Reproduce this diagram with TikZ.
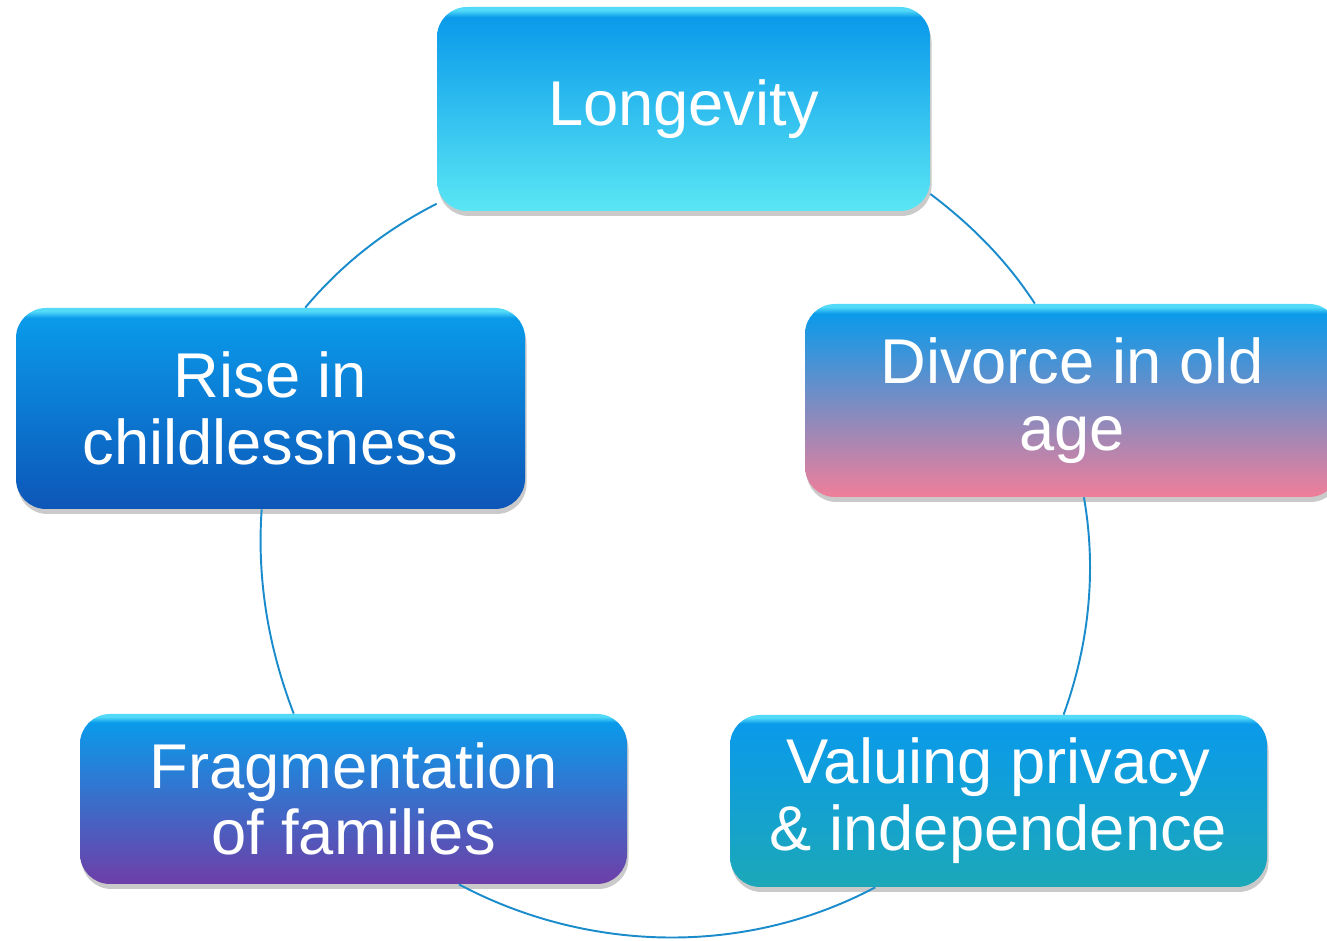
\documentclass[tikz,border=0pt]{standalone}
\usepackage{fontspec}
\setmainfont{Liberation Sans}
\usetikzlibrary{shadows}

\definecolor{topblue}{RGB}{10,154,234}
\definecolor{hilite}{RGB}{82,218,248}
\definecolor{ringblue}{RGB}{26,140,204}
\definecolor{longbot}{RGB}{90,230,244}
\definecolor{divbot}{RGB}{240,126,154}
\definecolor{risebot}{RGB}{13,86,184}
\definecolor{fragbot}{RGB}{110,62,168}
\definecolor{privbot}{RGB}{28,168,184}

% vertical shading: bottom colour -> blue, light rim on top
\newcommand{\boxshading}[2]{%
  \pgfdeclareverticalshading{#1}{100bp}{color(0bp)=(#2); color(25bp)=(#2);
    color(72.5bp)=(topblue); color(74.2bp)=(hilite); color(75bp)=(hilite);
    color(100bp)=(hilite)}}
\boxshading{longshade}{longbot}
\boxshading{divshade}{divbot}
\boxshading{riseshade}{risebot}
\boxshading{fragshade}{fragbot}
\boxshading{privshade}{privbot}

\tikzset{
  cyclebox/.style={shade, rounded corners=0.6cm, text=white, align=center,
    inner sep=0pt, font=\fontsize{36}{38}\selectfont,
    drop shadow={shadow xshift=0.03cm, shadow yshift=-0.1cm, opacity=0.42}},
  ring/.style={ringblue, line width=1.1pt, looseness=0.87}
}

\begin{document}
\begin{tikzpicture}
  \useasboundingbox (0,0) rectangle (26.54,18.8);

  % Draw the boxes
  \node[cyclebox, shading=longshade, minimum width=9.86cm, minimum height=4.08cm]
    (long) at (13.67,16.62) {Longevity};
  \node[cyclebox, shading=divshade, minimum width=10.68cm, minimum height=3.86cm]
    (divorce) at (21.44,10.79) {Divorce in old\\age};
  \node[cyclebox, shading=privshade, minimum width=10.74cm, minimum height=3.44cm]
    (privacy) at (19.97,2.78) {Valuing privacy\\\& independence};
  \node[cyclebox, shading=fragshade, minimum width=10.94cm, minimum height=3.40cm]
    (frag) at (7.07,2.82) {Fragmentation\\of families};
  \node[cyclebox, shading=riseshade, minimum width=10.18cm, minimum height=4.02cm]
    (rise) at (5.41,10.63) {Rise in\\childlessness};

  % Draw the arcs of the cycle
  \draw[ring] (long.-19) to[out=-37,in=123] (divorce.111);
  \draw[ring] (divorce.-83) to[out=-80,in=70] (privacy.53);
  \draw[ring, looseness=0.9] (privacy.215) to[out=208,in=-28] (frag.-39);
  \draw[ring] (frag.125) to[out=111,in=266] (rise.265);
  \draw[ring] (rise.71) to[out=50,in=207] (long.201);
\end{tikzpicture}
\end{document}
